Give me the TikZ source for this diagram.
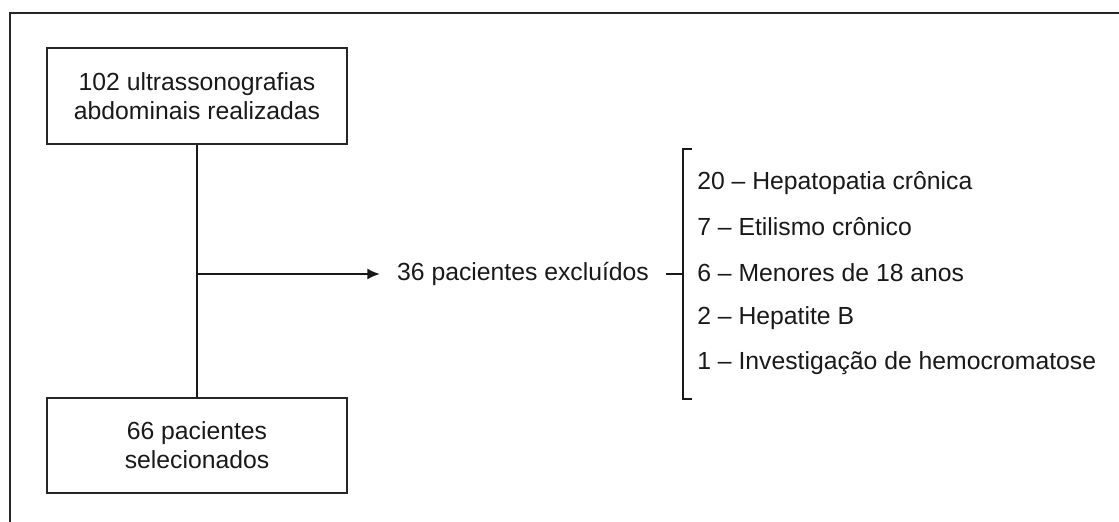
\documentclass[tikz,border=0pt]{standalone}
\usepackage{fontspec}
\setmainfont{Liberation Sans}
\usetikzlibrary{arrows.meta}
\tikzset{
  flowbox/.style={draw=black!85,line width=1.1pt,minimum width=7.5cm,minimum height=2.4cm,align=center,inner sep=0pt},
  link/.style={line width=1.9pt,black!90},
  item/.style={anchor=west,inner sep=0pt}
}
\begin{document}
\begin{tikzpicture}[font=\fontsize{17.6}{20.6}\selectfont,text=black!90]
\useasboundingbox (0,0) rectangle (27.975,13.05);

% Frame
\draw[line width=1.4pt,black!85] (0.25,0) -- (0.25,12.725) -- (27.975,12.725);

% Boxes
\node[flowbox] (total) at (4.925,10.65) {102 ultrassonografias\\abdominais realizadas};
\node[flowbox,minimum height=2.375cm] (sel) at (4.925,1.9125) {66 pacientes\\selecionados};

% Main line and arrow
\draw[link] (total.south) -- (sel.north);
\coordinate (split) at (total.south |- 0,6.2);
\node[inner xsep=0.42cm,inner ysep=0pt] (excl) at (13.075,6.2) {36 pacientes excluídos};
\draw[link,-{Latex[length=3.2mm,width=2.8mm]}] (split) -- (excl.west);

% Bracket
\coordinate (brk) at (17.075,6.2);
\coordinate (btop) at (17.075,9.325);
\coordinate (bbot) at (17.075,3.075);
\draw[link] (excl.east) -- (brk);
\draw[link,line width=1.7pt] ([xshift=0.22cm]btop) -- (btop) -- (bbot) -- ([xshift=0.22cm]bbot);

% Reasons
\foreach \y/\txt [count=\i] in {8.475/20 -- Hepatopatia crônica,
                                7.375/7 -- Etilismo crônico,
                                6.225/6 -- Menores de 18 anos,
                                5.1/2 -- Hepatite B,
                                3.975/1 -- Investigação de hemocromatose}
  \node[item] (r\i) at (17.425,\y) {\txt};
\end{tikzpicture}
\end{document}
